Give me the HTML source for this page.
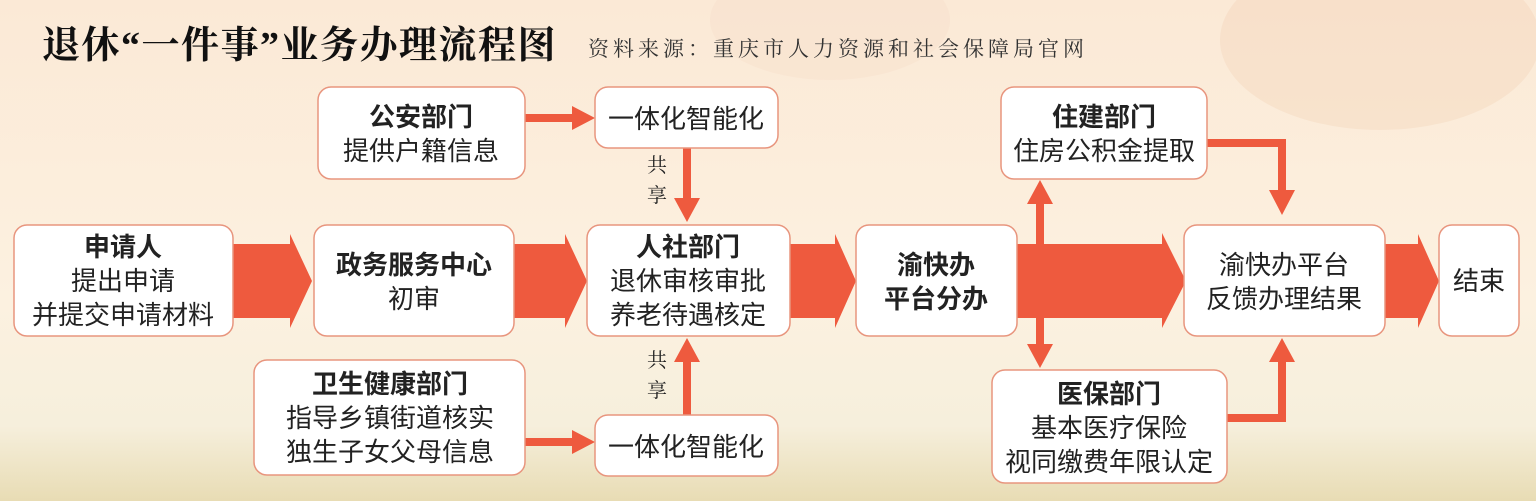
<!DOCTYPE html>
<html><head><meta charset="utf-8"><style>
html,body{margin:0;padding:0;width:1536px;height:501px;overflow:hidden;}
svg{display:block;}
.t{font-family:"Liberation Sans","Noto Sans CJK SC",sans-serif;font-size:26px;fill:#222;text-anchor:middle;}
.b{font-weight:bold;}
.s{font-family:"Liberation Serif","Noto Serif CJK SC",serif;}
</style></head><body>
<svg width="1536" height="501" viewBox="0 0 1536 501" xmlns="http://www.w3.org/2000/svg">
<defs>
<linearGradient id="bg" x1="0" y1="0" x2="0" y2="1">
<stop offset="0" stop-color="#fbe9d6"/><stop offset="0.6" stop-color="#fcf1e0"/><stop offset="0.85" stop-color="#f6efdc"/><stop offset="1" stop-color="#e8dcb4"/>
</linearGradient>
</defs>
<rect width="1536" height="501" fill="url(#bg)"/>
<ellipse cx="1380" cy="40" rx="160" ry="90" fill="#f0c9a6" opacity="0.25"/>
<ellipse cx="830" cy="20" rx="120" ry="60" fill="#f4d2bc" opacity="0.2"/>

<text x="42" y="58" class="s b" style="font-size:38px;fill:#111;letter-spacing:1.5px">退休“一件事”业务办理流程图</text>
<text x="588" y="56" class="s" style="font-size:21px;fill:#333;letter-spacing:4px">资料来源：重庆市人力资源和社会保障局官网</text>

<g fill="#ee5a3e">
<polygon points="233,244 290,244 290,234 312,281 290,328 290,318 233,318"/>
<polygon points="514,244 565,244 565,234 587,281 565,328 565,318 514,318"/>
<polygon points="790,244 835,244 835,234 856,281 835,328 835,318 790,318"/>
<polygon points="1017,244 1162,244 1162,233 1186,281 1162,328 1162,318 1017,318"/>
<polygon points="1385,244 1418,244 1418,234 1439,281 1418,328 1418,318 1385,318"/>
<polygon points="525,114 572,114 572,106 595,118 572,130 572,122 525,122"/>
<polygon points="525,438 572,438 572,430 595,442 572,454 572,446 525,446"/>
<polygon points="683,148 691,148 691,198 700,198 687,222 674,198 683,198"/>
<polygon points="683,415 691,415 691,362 700,362 687,338 674,362 683,362"/>
<polygon points="1036,244 1044,244 1044,204 1053,204 1040,180 1027,204 1036,204"/>
<polygon points="1036,318 1044,318 1044,344 1053,344 1040,368 1027,344 1036,344"/>
<polygon points="1207,139 1286,139 1286,190 1295,190 1282,215 1269,190 1278,190 1278,147 1207,147"/>
<polygon points="1227,414 1278,414 1278,362 1269,362 1282,338 1295,362 1286,362 1286,422 1227,422"/>
</g>

<g fill="#fff" stroke="#e8957e" stroke-width="1.5">
<rect x="14" y="225" width="219" height="111" rx="13"/>
<rect x="314" y="225" width="200" height="111" rx="13"/>
<rect x="587" y="225" width="203" height="111" rx="13"/>
<rect x="856" y="225" width="161" height="111" rx="13"/>
<rect x="1184" y="225" width="201" height="111" rx="13"/>
<rect x="1439" y="225" width="80" height="111" rx="13"/>
<rect x="318" y="87" width="207" height="92" rx="13"/>
<rect x="595" y="87" width="183" height="61" rx="13"/>
<rect x="254" y="360" width="271" height="115" rx="13"/>
<rect x="595" y="415" width="183" height="61" rx="13"/>
<rect x="1001" y="87" width="206" height="92" rx="13"/>
<rect x="992" y="370" width="235" height="113" rx="13"/>
</g>

<text class="t b" x="123" y="256">申请人</text>
<text class="t" x="123" y="290">提出申请</text>
<text class="t" x="123" y="324">并提交申请材料</text>

<text class="t b" x="414" y="274">政务服务中心</text>
<text class="t" x="414" y="308">初审</text>

<text class="t b" x="688" y="256">人社部门</text>
<text class="t" x="688" y="290">退休审核审批</text>
<text class="t" x="688" y="324">养老待遇核定</text>

<text class="t b" x="936" y="274">渝快办</text>
<text class="t b" x="936" y="308">平台分办</text>

<text class="t" x="1284" y="274">渝快办平台</text>
<text class="t" x="1284" y="308">反馈办理结果</text>

<text class="t" x="1479" y="290">结束</text>

<text class="t b" x="421" y="126">公安部门</text>
<text class="t" x="421" y="160">提供户籍信息</text>

<text class="t" x="686" y="128">一体化智能化</text>
<text class="t" x="686" y="456">一体化智能化</text>

<text class="t s" x="657" y="172" style="font-size:20px">共</text>
<text class="t s" x="657" y="202" style="font-size:20px">享</text>
<text class="t s" x="657" y="367" style="font-size:20px">共</text>
<text class="t s" x="657" y="397" style="font-size:20px">享</text>

<text class="t b" x="390" y="393">卫生健康部门</text>
<text class="t" x="390" y="427">指导乡镇街道核实</text>
<text class="t" x="390" y="461">独生子女父母信息</text>

<text class="t b" x="1104" y="126">住建部门</text>
<text class="t" x="1104" y="160">住房公积金提取</text>

<text class="t b" x="1109" y="403">医保部门</text>
<text class="t" x="1109" y="437">基本医疗保险</text>
<text class="t" x="1109" y="471">视同缴费年限认定</text>
</svg>
</body></html>
